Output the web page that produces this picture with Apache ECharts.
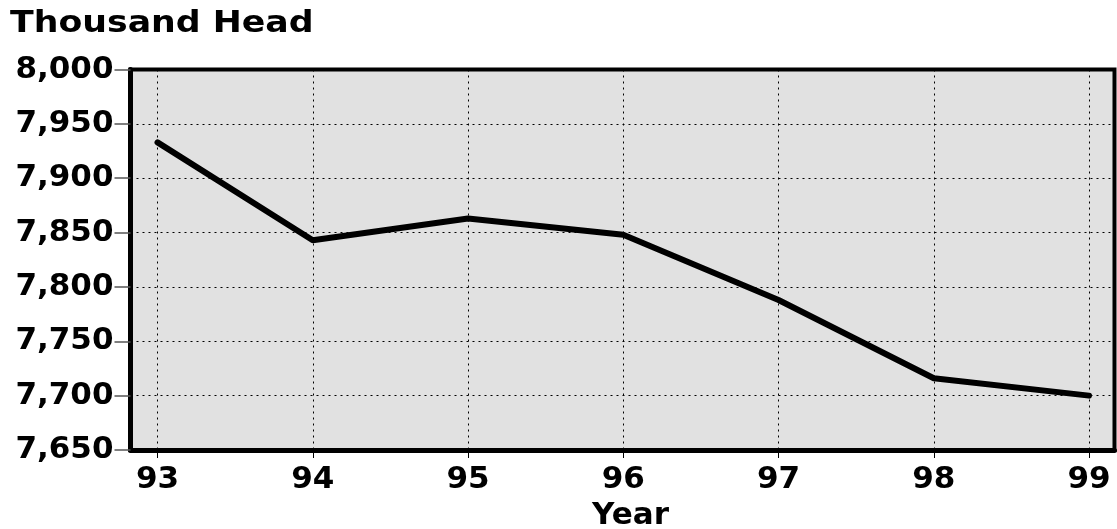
<!DOCTYPE html>
<html>
<head>
<meta charset="utf-8">
<script src="https://cdn.jsdelivr.net/npm/echarts@6/dist/echarts.min.js"></script>
<style>html,body{margin:0;padding:0;background:#fff;}#c{width:1117px;height:529px;}</style>
</head>
<body>
<div id="c"></div>
<script>
const years = [93, 94, 95, 96, 97, 98, 99];
const head = [7933, 7843, 7863, 7848, 7788, 7716, 7700];
const yTicks = [7650, 7700, 7750, 7800, 7850, 7900, 7950, 8000];
const titleText = 'Thousand Head';
const xName = 'Year';

const FONT = 'DejaVu Sans';
const chart = echarts.init(document.getElementById('c'), null, {renderer: 'canvas'});
chart.setOption({
  animation: false,
  backgroundColor: '#fff',
  graphic: [{
    type: 'text', left: 10, top: 8, scaleX: 1.12,
    style: {text: titleText, fontFamily: FONT, fontWeight: 'bold', fontSize: 31, fill: '#000'}
  }],
  grid: {
    left: 130.5, right: 2.5, top: 69.5, bottom: 79,
    containLabel: false, outerBoundsMode: 'none',
    show: true, backgroundColor: '#e1e1e1', borderColor: '#000', borderWidth: 4
  },
  xAxis: {
    type: 'value', min: 92.826, max: 99.164,
    name: xName, nameLocation: 'middle', nameGap: 50,
    nameTextStyle: {fontFamily: FONT, fontWeight: 'bold', fontSize: 31, color: '#000', padding: [0, 0, 0, 16]},
    axisLine: {show: true, lineStyle: {color: '#000', width: 5}},
    axisTick: {show: true, customValues: years, length: 8, lineStyle: {color: '#000', width: 1}},
    axisLabel: {customValues: years, margin: 14, fontFamily: FONT, fontWeight: 'bold', fontSize: 31, color: '#000'},
    splitLine: {show: true, lineStyle: {color: '#000', width: 1, type: [2, 4]}}
  },
  yAxis: {
    type: 'value', min: yTicks[0], max: yTicks[yTicks.length - 1], interval: 50,
    axisLine: {show: true, lineStyle: {color: '#000', width: 5}},
    axisTick: {show: true, length: 16, lineStyle: {color: '#555', width: 1.5}},
    axisLabel: {
      margin: 17, fontFamily: FONT, fontWeight: 'bold', fontSize: 31, color: '#000',
      formatter: v => v.toLocaleString('en-US')
    },
    splitLine: {show: true, lineStyle: {color: '#000', width: 1, type: [2, 4]}}
  },
  series: [{
    type: 'line',
    data: years.map((y, i) => [y, head[i]]),
    showSymbol: false, symbol: 'none',
    lineStyle: {color: '#000', width: 6, cap: 'round', join: 'round'}
  }]
});
</script>
</body>
</html>
